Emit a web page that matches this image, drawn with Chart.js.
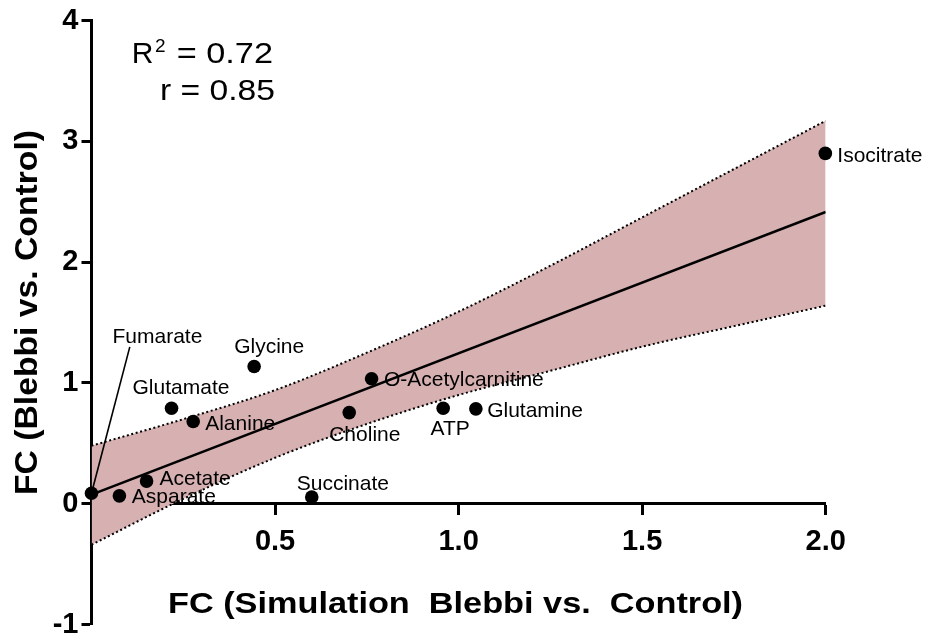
<!DOCTYPE html>
<html>
<head>
<meta charset="utf-8">
<script src="https://cdn.jsdelivr.net/npm/chart.js@4.4.1/dist/chart.umd.min.js"></script>
<style>
html,body{margin:0;padding:0;background:#fff;}
canvas{display:block;}
</style>
</head>
<body>
<canvas id="c" width="928" height="641"></canvas>
<script>
// ---------- data ----------
const metabolites = ['Fumarate','Asparate','Acetate','Glutamate','Alanine','Glycine','Succinate','Choline','O-Acetylcarnitine','ATP','Glutamine','Isocitrate'];
const simulatedFC = [0.000, 0.076, 0.150, 0.218, 0.277, 0.443, 0.600, 0.702, 0.763, 0.958, 1.047, 1.999];
const measuredFC  = [0.087, 0.065, 0.187, 0.790, 0.680, 1.136, 0.056, 0.754, 1.034, 0.790, 0.785, 2.900];
const fitX = [0, 2];
const fitY = [0.075, 2.415];
const bandX     = [0, 0.25, 0.5, 0.75, 1.0, 1.25, 1.5, 1.75, 2.0];
const bandUpper = [0.48, 0.70, 0.94, 1.25, 1.59, 1.97, 2.37, 2.77, 3.17];
const bandLower = [-0.34, 0.04, 0.38, 0.66, 0.90, 1.10, 1.30, 1.47, 1.64];
const xTickValues = [0.5, 1.0, 1.5, 2.0];
const xTickLabels = ['0.5', '1.0', '1.5', '2.0'];
const yTickValues = [-1, 0, 1, 2, 3, 4];
const yTickLabels = ['-1', '0', '1', '2', '3', '4'];
const rSquaredText = '0.72';
const rText = '0.85';
const xTitle = 'FC (Simulation  Blebbi vs.  Control)';
const yTitle = 'FC (Blebbi vs. Control)';

// ---------- layout / style (not data) ----------
const FONT = '"Liberation Sans", Arial, Helvetica, sans-serif';
// label offsets from point centre: [dx to text left, dy to text baseline]
const labelOffsets = [[21,-150],[12.4,7],[13,4],[-39,-14],[12,8.3],[-20,-13.4],[-15,-6.7],[-20,28],[12.3,7.7],[-12.6,26.7],[11.3,7.7],[12,8.4]];
const leaderEnd = [38.3, -146.3]; // Fumarate leader line end, relative to point
const BAND_COLOR = 'rgb(215,177,177)';

function fitText(ctx, txt, left, right, baseline) {
  const w = ctx.measureText(txt).width;
  const sx = (right - left) / w;
  ctx.save();
  ctx.translate(left, baseline);
  ctx.scale(sx, 1);
  ctx.textAlign = 'left';
  ctx.textBaseline = 'alphabetic';
  ctx.fillText(txt, 0, 0);
  ctx.restore();
}

const overlay = {
  id: 'overlay',
  afterDatasetsDraw(chart) {
    const ctx = chart.ctx, xs = chart.scales.x, ys = chart.scales.y;
    ctx.save();
    ctx.fillStyle = '#000';
    ctx.strokeStyle = '#000';
    // leader line for Fumarate
    const fx = xs.getPixelForValue(simulatedFC[0]), fy = ys.getPixelForValue(measuredFC[0]);
    ctx.lineWidth = 1.6;
    ctx.beginPath();
    ctx.moveTo(fx, fy);
    ctx.lineTo(fx + leaderEnd[0], fy + leaderEnd[1]);
    ctx.stroke();
    // point labels
    ctx.font = '21px ' + FONT;
    ctx.textAlign = 'left';
    ctx.textBaseline = 'alphabetic';
    metabolites.forEach((name, i) => {
      const px = xs.getPixelForValue(simulatedFC[i]);
      const py = ys.getPixelForValue(measuredFC[i]);
      ctx.fillText(name, px + labelOffsets[i][0], py + labelOffsets[i][1]);
    });
    ctx.restore();
  },
  afterDraw(chart) {
    const ctx = chart.ctx;
    ctx.save();
    ctx.fillStyle = '#000';
    // statistics
    ctx.font = '30px ' + FONT;
    ctx.textBaseline = 'alphabetic';
    ctx.textAlign = 'left';
    ctx.fillText('R', 131.7, 63.3);
    ctx.font = '19px ' + FONT;
    ctx.fillText('2', 155, 52);
    ctx.font = '30px ' + FONT;
    fitText(ctx, '= ' + rSquaredText, 176.7, 273, 63.3);
    fitText(ctx, 'r = ' + rText, 160, 275, 100);
    // x title
    ctx.font = 'bold 30px ' + FONT;
    fitText(ctx, xTitle, 168, 743, 613);
    // y title (rotated)
    ctx.save();
    ctx.translate(37.3, 495);
    ctx.rotate(-Math.PI / 2);
    ctx.font = 'bold 31px ' + FONT;
    fitText(ctx, yTitle, 0, 365, 0);
    ctx.restore();
    ctx.restore();
  }
};

const pts = simulatedFC.map((x, i) => ({x: x, y: measuredFC[i]}));
const fitPts = fitX.map((x, i) => ({x: x, y: fitY[i]}));
const upPts = bandX.map((x, i) => ({x: x, y: bandUpper[i]}));
const loPts = bandX.map((x, i) => ({x: x, y: bandLower[i]}));

new Chart(document.getElementById('c'), {
  type: 'scatter',
  data: {
    datasets: [
      {label: 'data', data: pts, order: 0, clip: false, pointRadius: 6.8, pointBackgroundColor: '#000', pointBorderWidth: 0, showLine: false},
      {label: 'fit', type: 'line', data: fitPts, order: 1, borderColor: '#000', borderWidth: 2.6, pointRadius: 0, fill: false},
      {label: 'upper', type: 'line', data: upPts, order: 2, borderColor: '#000', borderWidth: 2, borderDash: [2, 2.6], pointRadius: 0, fill: '+1', backgroundColor: BAND_COLOR, cubicInterpolationMode: 'monotone'},
      {label: 'lower', type: 'line', data: loPts, order: 3, borderColor: '#000', borderWidth: 2, borderDash: [2, 2.6], pointRadius: 0, fill: false, cubicInterpolationMode: 'monotone'}
    ]
  },
  options: {
    responsive: false,
    animation: false,
    devicePixelRatio: 1,
    layout: {padding: {left: 0, top: 20.5, right: 102.3, bottom: 16.5}},
    plugins: {
      legend: {display: false},
      tooltip: {enabled: false},
      filler: {drawTime: 'beforeDatasetsDraw'}
    },
    scales: {
      x: {
        type: 'linear', min: 0, max: 2,
        position: {y: 0},
        afterBuildTicks: s => { s.ticks = xTickValues.map(v => ({value: v})); },
        ticks: {callback: (v, i) => xTickLabels[i], color: '#000', font: {family: FONT, size: 29, weight: 'bold'}, padding: 11, maxRotation: 0, autoSkip: false},
        grid: {drawOnChartArea: false, drawTicks: true, tickLength: 10, tickWidth: 3, tickColor: '#000', color: '#000'},
        border: {display: true, color: '#000', width: 3}
      },
      y: {
        type: 'linear', min: -1, max: 4,
        afterBuildTicks: s => { s.ticks = yTickValues.map(v => ({value: v})); },
        afterFit: s => { s.width = 91.5; s.paddingTop = 8; s.paddingBottom = 8; },
        ticks: {callback: (v, i) => yTickLabels[i], color: '#000', font: {family: FONT, size: 29, weight: 'bold'}, padding: 3, autoSkip: false},
        grid: {drawOnChartArea: false, drawTicks: true, tickLength: 10, tickWidth: 3, tickColor: '#000', color: '#000'},
        border: {display: true, color: '#000', width: 3}
      }
    }
  },
  plugins: [overlay]
});
</script>
</body>
</html>
